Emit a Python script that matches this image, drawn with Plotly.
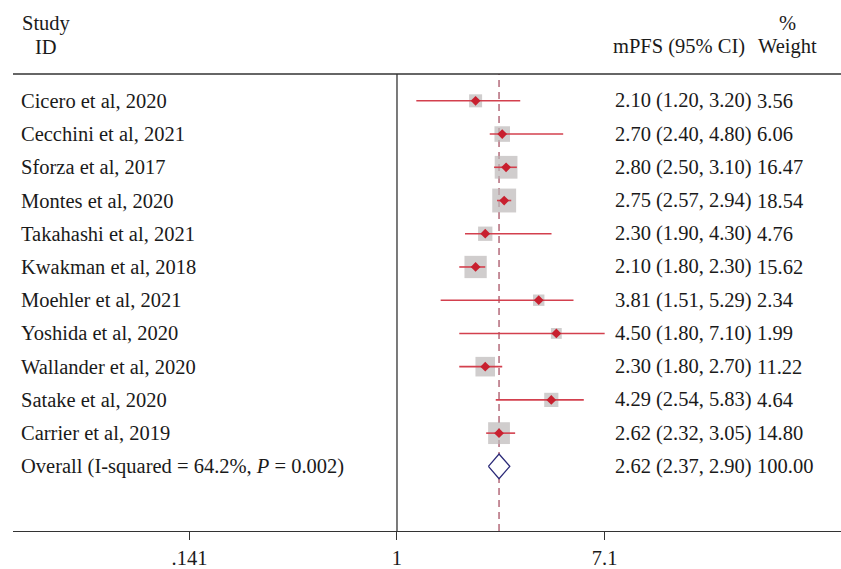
import plotly.graph_objects as go
import math

studies = ["Cicero et al, 2020", "Cecchini et al, 2021", "Sforza et al, 2017",
           "Montes et al, 2020", "Takahashi et al, 2021", "Kwakman et al, 2018",
           "Moehler et al, 2021", "Yoshida et al, 2020", "Wallander et al, 2020",
           "Satake et al, 2020", "Carrier et al, 2019"]
est = [2.10, 2.70, 2.80, 2.75, 2.30, 2.10, 3.81, 4.50, 2.30, 4.29, 2.62]
lo = [1.20, 2.40, 2.50, 2.57, 1.90, 1.80, 1.51, 1.80, 1.80, 2.54, 2.32]
hi = [3.20, 4.80, 3.10, 2.94, 4.30, 2.30, 5.29, 7.10, 2.70, 5.83, 3.05]
weights = [3.56, 6.06, 16.47, 18.54, 4.76, 15.62, 2.34, 1.99, 11.22, 4.64, 14.80]

overall_label = "Overall (I-squared = 64.2%, <i>P</i> = 0.002)"
overall_est, overall_lo, overall_hi, overall_w = 2.62, 2.37, 2.90, 100.00

tick_vals = [0.141, 1, 7.1]
tick_text = [".141", "1", "7.1"]

FONT = "Liberation Serif"
FS = 20.5
TXT = "#1a1a1a"
rows = list(range(1, len(studies) + 1))
overall_row = len(studies) + 1

fig = go.Figure()

# weight boxes
fig.add_trace(go.Scatter(
    x=est, y=rows, mode="markers",
    marker=dict(symbol="square", color="#bcb8b8",
                size=[4.5 + 4.5 * math.sqrt(w) for w in weights],
                line=dict(width=0)),
    hoverinfo="skip", showlegend=False))

# CI lines
cx, cy = [], []
for r, a, b in zip(rows, lo, hi):
    cx += [a, b, None]
    cy += [r, r, None]
fig.add_trace(go.Scatter(x=cx, y=cy, mode="lines",
                         line=dict(color="#d3404e", width=1.6),
                         hoverinfo="skip", showlegend=False))

# point estimates
fig.add_trace(go.Scatter(
    x=est, y=rows, mode="markers",
    marker=dict(symbol="diamond", color="#c8202f", size=7.5, line=dict(width=0)),
    hoverinfo="skip", showlegend=False))

# overall diamond
h = 0.37
fig.add_trace(go.Scatter(
    x=[overall_lo, overall_est, overall_hi, overall_est, overall_lo],
    y=[overall_row, overall_row - h, overall_row, overall_row + h, overall_row],
    mode="lines", fill="toself", fillcolor="white",
    line=dict(color="#2b2a78", width=1.3),
    hoverinfo="skip", showlegend=False))

shapes = [
    dict(type="line", xref="paper", yref="paper", x0=0, x1=1, y0=1, y1=1,
         line=dict(color="#333333", width=1.3)),
    dict(type="line", xref="x", yref="paper", x0=1, x1=1, y0=0, y1=1,
         line=dict(color="#333333", width=1.3)),
    dict(type="line", xref="x", yref="paper", x0=overall_est, x1=overall_est, y0=0, y1=1,
         line=dict(color="#b46a7a", width=1.5, dash="7px,5px"), layer="below"),
]

XL = 0.0073
XC = 0.7247
XW = 0.8962
ann = []
for r, s in zip(rows, studies):
    ann.append(dict(x=XL, y=r, xref="paper", yref="y", text=s,
                    xanchor="left", yanchor="middle", showarrow=False))
ann.append(dict(x=XL, y=overall_row, xref="paper", yref="y", text=overall_label,
                xanchor="left", yanchor="middle", showarrow=False))
for r, e, a, b, w in zip(rows, est, lo, hi, weights):
    ann.append(dict(x=XC, y=r, xref="paper", yref="y",
                    text=f"{e:.2f} ({a:.2f}, {b:.2f})",
                    xanchor="left", yanchor="middle", showarrow=False))
    ann.append(dict(x=XW, y=r, xref="paper", yref="y", text=f"{w:.2f}",
                    xanchor="left", yanchor="middle", showarrow=False))
ann.append(dict(x=XC, y=overall_row, xref="paper", yref="y",
                text=f"{overall_est:.2f} ({overall_lo:.2f}, {overall_hi:.2f})",
                xanchor="left", yanchor="middle", showarrow=False))
ann.append(dict(x=XW, y=overall_row, xref="paper", yref="y", text=f"{overall_w:.2f}",
                xanchor="left", yanchor="middle", showarrow=False))

# headers
for txt, x, y in [("Study", 0.0399, 1.111), ("ID", 0.0399, 1.060),
                  ("%", 0.9348, 1.111), ("mPFS (95% CI)", 0.8043, 1.060),
                  ("Weight", 0.9348, 1.060)]:
    ann.append(dict(x=x, y=y, xref="paper", yref="paper", text=txt,
                    xanchor="center", yanchor="middle", showarrow=False))

fig.update_layout(
    width=841, height=569,
    margin=dict(l=13, r=0, t=74, b=35),
    paper_bgcolor="white", plot_bgcolor="white",
    font=dict(family=FONT, size=FS, color=TXT),
    shapes=shapes, annotations=ann,
    xaxis=dict(type="log", range=[-1.574, 1.82], showgrid=False, zeroline=False,
               tickvals=tick_vals, ticktext=tick_text, ticks="outside", ticklen=8,
               tickcolor="#333333", showline=True, linecolor="#333333", linewidth=1.3,
               tickfont=dict(family=FONT, size=FS, color=TXT)),
    yaxis=dict(range=[13.945, 0.193], visible=False, showgrid=False, zeroline=False),
)

fig.write_html("out.html", config={"displayModeBar": False},
               post_script="document.body.style.margin='0px';document.body.style.padding='0px';")
